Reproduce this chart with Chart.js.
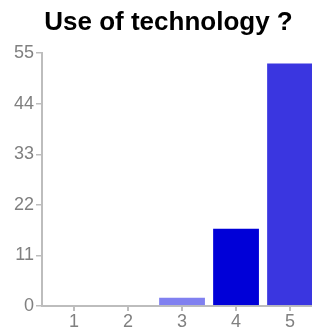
<!DOCTYPE html>
<html>
<head>
<meta charset="utf-8">
<script src="https://cdn.jsdelivr.net/npm/chart.js@4/dist/chart.umd.min.js"></script>
<style>
  html, body { margin: 0; padding: 0; background: #fff; overflow: hidden; }
  #wrap { width: 312px; height: 333px; overflow: hidden; }
</style>
</head>
<body>
<div id="wrap"><canvas id="chart" width="337" height="333"></canvas></div>
<script>
var categories = ['1', '2', '3', '4', '5'];
var counts = [0, 0, 2, 17, 53];
var barColors = ['#8080f0', '#8080f0', '#8080f0', '#0000d8', '#3a36e0'];
var yTicks = [0, 11, 22, 33, 44, 55];

var axisGray = '#bdbdbd';
var labelGray = '#808080';

// the original chart was wider than the crop, so the canvas runs past the window
var points = categories.map(function(c, i) {
	return { x: Number(c), y: counts[i] };
});

new Chart(document.getElementById('chart').getContext('2d'), {
	type: 'bar',
	data: {
		datasets: [{
			data: points,
			backgroundColor: barColors,
			borderColor: 'rgba(255,255,255,0.35)',
			borderWidth: { top: 1 },
			barPercentage: 0.85,
			categoryPercentage: 1
		}]
	},
	options: {
		responsive: false,
		animation: false,
		devicePixelRatio: 1,
		layout: { padding: 0 },
		plugins: {
			legend: { display: false },
			tooltip: { enabled: false },
			title: {
				display: true,
				text: 'Use of technology ?',
				color: '#000',
				font: { family: '"Liberation Sans", Arial, sans-serif', size: 26, weight: 'bold', lineHeight: 1.2 },
				padding: { top: 7, bottom: 15 }
			}
		},
		scales: {
			x: {
				type: 'linear',
				offset: false,
				min: 0.407,
				max: 5.87,
				afterFit: function(scale) { scale.height = 27; },
				afterBuildTicks: function(scale) {
					scale.ticks = categories.map(function(c) { return { value: Number(c) }; });
				},
				ticks: {
					color: labelGray,
					font: { family: '"Liberation Sans", Arial, sans-serif', size: 18 },
					padding: 0,
					maxRotation: 0,
					callback: function(v) { return categories[categories.indexOf(String(v))]; }
				},
				grid: { display: true, offset: false, drawOnChartArea: false, tickLength: 5, color: axisGray, lineWidth: 2 },
				border: { display: true, color: axisGray, width: 2 }
			},
			y: {
				min: 0,
				max: 55,
				afterFit: function(scale) { scale.width = 42; },
				afterBuildTicks: function(scale) {
					scale.ticks = yTicks.map(function(v) { return { value: v }; });
				},
				ticks: {
					color: labelGray,
					font: { family: '"Liberation Sans", Arial, sans-serif', size: 18 },
					padding: 2
				},
				grid: { display: true, drawOnChartArea: false, tickLength: 6, color: axisGray, lineWidth: 1.5 },
				border: { display: true, color: axisGray, width: 2 }
			}
		}
	}
});
</script>
</body>
</html>
